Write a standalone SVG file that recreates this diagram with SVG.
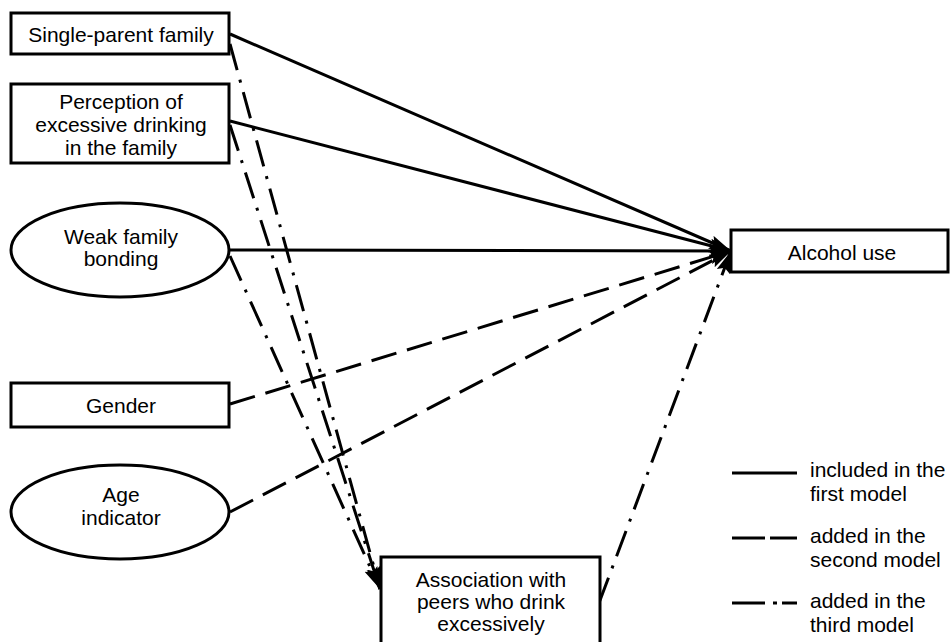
<svg xmlns="http://www.w3.org/2000/svg" width="952" height="642" viewBox="0 0 952 642">
<style>
.box{fill:#fff;stroke:#000;stroke-width:3}
.t{font-family:"Liberation Sans",Arial,sans-serif;font-size:21px;fill:#000;text-anchor:middle}
.lt{font-family:"Liberation Sans",Arial,sans-serif;font-size:21px;fill:#000}
.c{fill:none;stroke:#000;stroke-width:3}
.solid{}
.dash{stroke-dasharray:26 11}
.dd{stroke-dasharray:27 10 3 10}
</style>
<defs>
<marker id="ah" markerUnits="userSpaceOnUse" markerWidth="24" markerHeight="16" refX="22" refY="7" orient="auto">
<path d="M0,0 L22,7 L0,14 L4,7 z" fill="#000"/>
</marker>
</defs>
<rect width="952" height="642" fill="#fff"/>
<g id="connectors">
<line class="c solid" x1="230" y1="34" x2="731" y2="251" marker-end="url(#ah)"/>
<line class="c solid" x1="230" y1="121" x2="731" y2="251" marker-end="url(#ah)"/>
<line class="c solid" x1="230" y1="250" x2="731" y2="251" marker-end="url(#ah)"/>
<line class="c dash" x1="230" y1="404" x2="731" y2="251" marker-end="url(#ah)"/>
<line class="c dash" x1="230" y1="512" x2="731" y2="251" marker-end="url(#ah)"/>
<line class="c dd" x1="599" y1="603" x2="731" y2="251" marker-end="url(#ah)"/>
<line class="c dd" x1="230" y1="44" x2="380" y2="589" marker-end="url(#ah)"/>
<line class="c dd" x1="230" y1="125" x2="380" y2="589" marker-end="url(#ah)"/>
<line class="c dd" x1="230" y1="256" x2="380" y2="589" marker-end="url(#ah)"/>
</g>
<g id="node-single-parent">
<rect class="box" x="11" y="13" width="218" height="41"/>
<text class="t" x="121" y="42">Single-parent family</text>
</g>
<g id="node-perception">
<rect class="box" x="11" y="84" width="218" height="79"/>
<text class="t" x="121" y="109">Perception of</text>
<text class="t" x="121" y="132">excessive drinking</text>
<text class="t" x="121" y="155">in the family</text>
</g>
<g id="node-weak-family">
<ellipse class="box" cx="120" cy="250" rx="109" ry="47"/>
<text class="t" x="121" y="244">Weak family</text>
<text class="t" x="121" y="266">bonding</text>
</g>
<g id="node-gender">
<rect class="box" x="11" y="383" width="218" height="44"/>
<text class="t" x="121" y="413">Gender</text>
</g>
<g id="node-age">
<ellipse class="box" cx="120" cy="512" rx="109" ry="47"/>
<text class="t" x="121" y="502">Age</text>
<text class="t" x="121" y="525">indicator</text>
</g>
<g id="node-alcohol">
<rect class="box" x="731" y="230" width="217" height="42"/>
<text class="t" x="842" y="260">Alcohol use</text>
</g>
<g id="node-association">
<rect class="box" x="381" y="557" width="219" height="95"/>
<text class="t" x="491" y="587">Association with</text>
<text class="t" x="491" y="609">peers who drink</text>
<text class="t" x="491" y="631">excessively</text>
</g>
<g id="legend">
<line class="c" x1="732" y1="473" x2="797" y2="473"/>
<text class="lt" x="810" y="477">included in the</text>
<text class="lt" x="810" y="501">first model</text>
<line class="c" x1="732" y1="538" x2="765" y2="538"/>
<line class="c" x1="770" y1="538" x2="797" y2="538"/>
<text class="lt" x="810" y="543">added in the</text>
<text class="lt" x="810" y="567">second model</text>
<line class="c" x1="732" y1="603" x2="765" y2="603"/>
<line class="c" x1="773" y1="603" x2="777" y2="603"/>
<line class="c" x1="782" y1="603" x2="797" y2="603"/>
<text class="lt" x="810" y="608">added in the</text>
<text class="lt" x="810" y="632">third model</text>
</g>
</svg>
